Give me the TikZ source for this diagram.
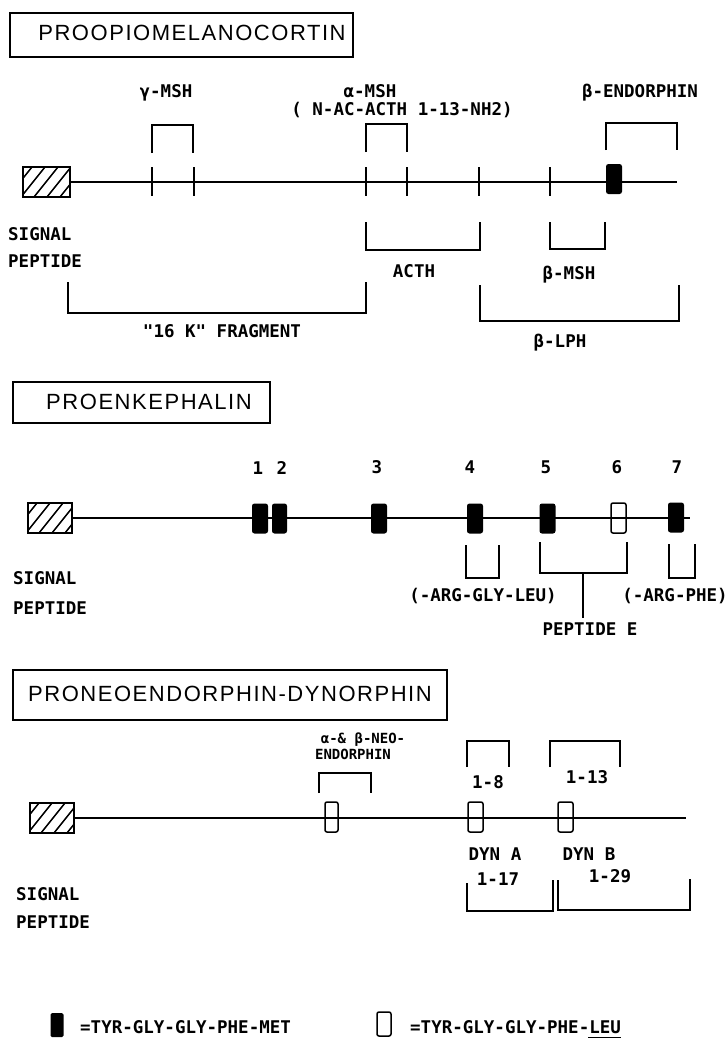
\documentclass[tikz,border=0pt]{standalone}
\usepackage{fontspec}
\setmainfont{Liberation Sans}
\newfontfamily\labfont{DejaVu Sans Mono}
\newfontfamily\titfont[LetterSpace=7]{Liberation Sans}
\begin{document}
\begin{tikzpicture}[x=1pt,y=-1pt,
  ln/.style={line width=1.6pt},
  lab/.style={font=\labfont\bfseries\fontsize{17.5pt}{18pt}\selectfont, inner sep=0pt, anchor=base},
  labw/.style={lab, anchor=base west},
  smlab/.style={lab, font=\labfont\bfseries\fontsize{14pt}{15pt}\selectfont},
  ttl/.style={font=\titfont\fontsize{22pt}{24pt}\selectfont, inner sep=0pt, anchor=base},
  tbox/.style={draw, line width=1.5pt, inner sep=0pt},
  sigbox/.style={draw, line width=1.6pt, minimum width=46pt, minimum height=30pt, inner sep=0pt,
    path picture={\foreach \k in {-1,...,4}{\draw[line width=1.5pt] ([xshift=\k*13pt-2pt]path picture bounding box.south west) -- ++(24pt,30pt);}}},
  met/.style={fill=black, rounded corners=2.5pt, minimum width=16pt, minimum height=30pt, inner sep=0pt},
  leu/.style={draw, line width=1.5pt, rounded corners=2pt, minimum width=14pt, minimum height=29pt, inner sep=0pt}]
\useasboundingbox (0,0) rectangle (727,1039);

%% ---------------- POMC ----------------
\node[tbox, minimum width=343pt, minimum height=44pt] (t1box) at (181.5,35) {};
\node[ttl] (t1) at (192,40) {PROOPIOMELANOCORTIN};

\node[lab] (gmsh) at (166,97) {γ-MSH};
\node[lab] (amsh) at (370,97) {α-MSH};
\node[lab] (nac) at (402,115) {( N-AC-ACTH 1-13-NH2)};
\node[lab] (bend) at (640,97) {β-ENDORPHIN};

\draw[ln] (152,153) |- (193,125) -- (193,153);
\draw[ln] (366,152) |- (407,124) -- (407,152);
\draw[ln] (606,150) |- (677,123) -- (677,150);

\node[sigbox, minimum width=47pt] (s1) at (46.5,182) {};
\coordinate (e1) at (677,182);
\draw[ln] (s1.east) -- (e1);
\foreach \x in {152,194,366,407,479,550} \draw[ln] (\x,167) -- (\x,196);
\node[met] (m1) at (614,179) {};

\node[labw] (sig1) at (8,240) {SIGNAL};
\node[labw] (pep1) at (8,267) {PEPTIDE};

\draw[ln] (366,222) |- (480,250) -- (480,222);
\node[lab] (acth) at (414,277) {ACTH};
\draw[ln] (550,222) |- (605,249) -- (605,222);
\node[lab] (bmsh) at (569,279) {β-MSH};
\draw[ln] (68,282) |- (366,313) -- (366,282);
\node[lab] (k16) at (222,337) {"16 K" FRAGMENT};
\draw[ln] (480,285) |- (679,321) -- (679,285);
\node[lab] (blph) at (560,347) {β-LPH};

%% ---------------- PROENKEPHALIN ----------------
\node[tbox, minimum width=257pt, minimum height=41pt] (t2box) at (141.5,402.5) {};
\node[ttl] (t2) at (149,409) {PROENKEPHALIN};

\node[lab] (n1) at (258,474) {1};
\node[lab] (n2) at (282,474) {2};
\node[lab] (n3) at (377,473) {3};
\node[lab] (n4) at (470,473) {4};
\node[lab] (n5) at (546,473) {5};
\node[lab] (n6) at (617,473) {6};
\node[lab] (n7) at (677,473) {7};

\node[sigbox, minimum width=44pt] (s2) at (50,518) {};
\coordinate (e2) at (690,518);
\draw[ln] (s2.east) -- (e2);
\node[met] (b1) at (260,518.5) {};
\node[met, minimum width=15pt] (b2) at (279.5,518.5) {};
\node[met] (b3) at (379,518.5) {};
\node[met] (b4) at (475,518.5) {};
\node[met] (b5) at (547.5,518.5) {};
\node[leu, minimum width=15pt, minimum height=30pt] (b6) at (618.5,518) {};
\node[met] (b7) at (676,517.5) {};

\node[labw] (sig2) at (13,584) {SIGNAL};
\node[labw] (pep2) at (13,614) {PEPTIDE};

\draw[ln] (466,545) |- (499,578) -- (499,545);
\node[lab] (arg1) at (483,601) {(-ARG-GLY-LEU)};
\draw[ln] (540,542) |- (627,573) -- (627,542);
\coordinate (pe) at (583,573);
\node[lab] (pepe) at (590,635) {PEPTIDE E};
\draw[ln] (pe) -- (583,618);
\draw[ln] (669,544) |- (695,578) -- (695,544);
\node[lab] (arg2) at (675,601) {(-ARG-PHE)};

%% ---------------- PRONEOENDORPHIN-DYNORPHIN ----------------
\node[tbox, minimum width=434pt, minimum height=50pt] (t3box) at (230,695) {};
\node[ttl] (t3) at (230,701) {PRONEOENDORPHIN-DYNORPHIN};

\node[smlab] (neo1) at (363,743) {α-\& β-NEO-};
\node[smlab] (neo2) at (353,759) {ENDORPHIN};
\draw[ln] (319,793) |- (371,773) -- (371,793);

\draw[ln] (467,767) |- (509,741) -- (509,767);
\node[lab] (d18) at (488,788) {1-8};
\draw[ln] (550,767) |- (620,741) -- (620,767);
\node[lab] (d113) at (587,783) {1-13};

\node[sigbox, minimum width=44pt] (s3) at (52,818) {};
\coordinate (e3) at (686,818);
\draw[ln] (s3.east) -- (e3);
\node[leu, minimum width=13pt, minimum height=30pt] (o1) at (331.5,817) {};
\node[leu, minimum width=15pt, minimum height=30pt] (o2) at (475.5,817) {};
\node[leu, minimum width=15pt, minimum height=30pt] (o3) at (565.5,817) {};

\node[lab] (dyna) at (495,860) {DYN A};
\node[lab] (dynb) at (589,860) {DYN B};
\node[lab] (d117) at (498,885) {1-17};
\node[lab] (d129) at (610,882) {1-29};
\draw[ln] (467,883) |- (553,911) -- (553,880);
\draw[ln] (558,880) |- (690,910) -- (690,879);

\node[labw] (sig3) at (16,900) {SIGNAL};
\node[labw] (pep3) at (16,928) {PEPTIDE};

%% ---------------- LEGEND ----------------
\node[met, minimum width=13pt, minimum height=24pt, rounded corners=1.5pt] (lgm) at (57,1025) {};
\node[labw] (lgmt) at (80,1033) {=TYR-GLY-GLY-PHE-MET};
\node[leu, minimum width=14pt, minimum height=24pt] (lgl) at (384,1024) {};
\node[labw] (lglt) at (410,1033) {=TYR-GLY-GLY-PHE-LEU};
\draw[line width=1.5pt] (lglt.base east) ++(-33pt,-4.5pt) -- ++(33pt,0pt);
\end{tikzpicture}
\end{document}
